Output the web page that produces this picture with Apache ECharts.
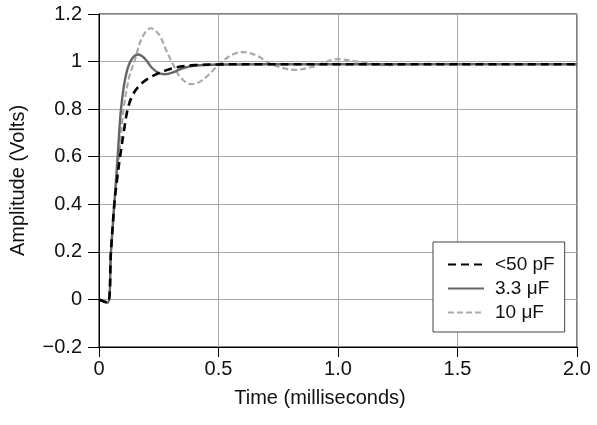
<!doctype html>
<html>
<head>
<meta charset="utf-8">
<title>Step response</title>
<script src="https://cdn.jsdelivr.net/npm/echarts@6/dist/echarts.min.js"></script>
<style>
  html, body { margin: 0; padding: 0; background: #fff; }
  #main { width: 597px; height: 425px; }
</style>
</head>
<body>
<div id="main"></div>
<script>
// series names
var names = ['<50 pF', '3.3 \u03bcF', '10 \u03bcF'];

// [time (ms), amplitude (V)]
var pf50 = [[0,0],[0.036,-0.014],[0.05,0.2],[0.064,0.4],[0.075,0.5],[0.088,0.6],[0.103,0.7],
  [0.12,0.8],[0.141,0.86],[0.17,0.9],[0.2,0.925],[0.234,0.944],[0.28,0.963],[0.325,0.976],
  [0.4,0.985],[0.5,0.988],[0.7,0.989],[1.0,0.989],[1.5,0.989],[2.0,0.989]];

var uf33 = [[0,0],[0.036,-0.014],[0.05,0.2],[0.064,0.4],[0.078,0.6],[0.092,0.8],[0.11,0.93],
  [0.131,1.0],[0.162,1.03],[0.19,1.015],[0.22,0.975],[0.25,0.952],[0.276,0.947],[0.31,0.955],
  [0.35,0.972],[0.4,0.983],[0.5,0.988],[0.7,0.989],[2.0,0.989]];

var uf10 = [[0,0],[0.036,-0.014],[0.05,0.2],[0.064,0.4],[0.083,0.6],[0.103,0.8],[0.125,0.93],
  [0.148,1.0],[0.18,1.1],[0.216,1.14],[0.25,1.115],[0.28,1.05],[0.304,1.0],[0.34,0.935],
  [0.385,0.905],[0.43,0.92],[0.5,0.985],[0.55,1.025],[0.6,1.04],[0.66,1.025],[0.72,0.99],
  [0.82,0.965],[0.9,0.98],[1.0,1.01],[1.08,1.0],[1.2,0.985],[1.35,0.99],[1.5,0.99],[2.0,0.989]];

var font = 'Liberation Sans, Arial, Helvetica, sans-serif';
var chart = echarts.init(document.getElementById('main'));

chart.setOption({
  animation: false,
  backgroundColor: '#fff',
  grid: {
    left: 99, right: 20, top: 14, bottom: 78,
    show: true, borderColor: '#000', borderWidth: 1
  },
  legend: {
    left: 433, top: 242,
    orient: 'vertical',
    itemWidth: 36, itemHeight: 20, itemGap: 5,
    padding: [13, 10, 10, 14],
    backgroundColor: '#fff',
    borderColor: '#444', borderWidth: 1, borderRadius: 0,
    itemStyle: { opacity: 0 },
    textStyle: { fontFamily: font, fontSize: 19, color: '#111', padding: [0, 0, 0, 6] },
    data: names
  },
  xAxis: {
    type: 'value', min: 0, max: 2, interval: 0.5,
    name: 'Time (milliseconds)', nameLocation: 'middle', nameGap: 41,
    nameTextStyle: { fontFamily: font, fontSize: 20, color: '#111', padding: [0, 36, 0, 0] },
    axisLine: { show: true, onZero: false, lineStyle: { color: '#000', width: 1 } },
    axisTick: { show: true, length: 10, lineStyle: { color: '#000' } },
    axisLabel: {
      fontFamily: font, fontSize: 20, color: '#111', margin: 12,
      formatter: function (v) { return v === 0 ? '0' : v.toFixed(1); }
    },
    splitLine: { show: true, lineStyle: { color: '#aaa', width: 1 } }
  },
  yAxis: {
    type: 'value', min: -0.2, max: 1.2, interval: 0.2,
    name: 'Amplitude (Volts)', nameLocation: 'middle', nameGap: 71,
    nameTextStyle: { fontFamily: font, fontSize: 20, color: '#111' },
    axisLine: { show: true, onZero: false, lineStyle: { color: '#000', width: 1 } },
    axisTick: { show: true, length: 11, lineStyle: { color: '#000' } },
    axisLabel: {
      fontFamily: font, fontSize: 20, color: '#111', margin: 17,
      formatter: function (v) {
        var r = Math.round(v * 10) / 10;
        if (r === 0) return '0';
        if (r === 1) return '1';
        var s = Math.abs(r).toFixed(1);
        return r < 0 ? '\u2212' + s : s;
      }
    },
    splitLine: { show: true, lineStyle: { color: '#aaa', width: 1 } }
  },
  series: [
    {
      name: names[2], type: 'line', data: uf10, smooth: 0.35, symbol: 'none', z: 2,
      lineStyle: { color: '#aaa', width: 2.2, type: [6, 3] }, itemStyle: { color: '#aaa' }
    },
    {
      name: names[1], type: 'line', data: uf33, smooth: 0.35, symbol: 'none', z: 3,
      lineStyle: { color: '#666', width: 2.4 }, itemStyle: { color: '#666' }
    },
    {
      name: names[0], type: 'line', data: pf50, smooth: 0.35, symbol: 'none', z: 4,
      lineStyle: { color: '#000', width: 2.6, type: [8, 5] }, itemStyle: { color: '#000' }
    }
  ]
});
</script>
</body>
</html>
